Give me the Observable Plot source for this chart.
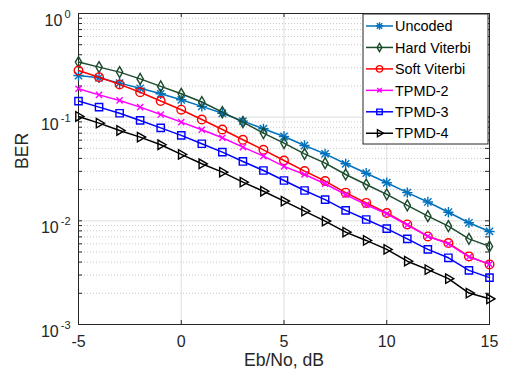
<!DOCTYPE html>
<html><head><meta charset="utf-8">
<script src="https://cdn.jsdelivr.net/npm/d3@7"></script>
<script src="https://cdn.jsdelivr.net/npm/@observablehq/plot@0.6"></script>
<style>
body{margin:0;background:#fff;}
#chart{width:505px;height:376px;}
</style></head><body><div id="chart"></div>
<script>
const ebno = [-5,-4,-3,-2,-1,0,1,2,3,4,5,6,7,8,9,10,11,12,13,14,15];
const uncoded = [0.252,0.240,0.213,0.190,0.168,0.147,0.127,0.109,0.0916,0.0773,0.0651,0.0533,0.0443,0.0355,0.0288,0.0233,0.0187,0.0152,0.0121,0.00958,0.0079];
const hardViterbi = [0.340,0.304,0.272,0.234,0.198,0.168,0.140,0.112,0.0895,0.0702,0.0562,0.0443,0.036,0.028,0.0224,0.018,0.0141,0.0111,0.0089,0.0067,0.00567];
const softViterbi = [0.282,0.243,0.207,0.174,0.143,0.118,0.095,0.076,0.0605,0.0484,0.0382,0.0302,0.0242,0.0187,0.0149,0.0119,0.00923,0.00707,0.0061,0.00454,0.0038];
const tpmd2 = [0.188,0.164,0.145,0.125,0.106,0.0895,0.0756,0.0633,0.0514,0.0421,0.0335,0.028,0.0228,0.0179,0.0143,0.0117,0.0091,0.0071,0.0060,0.00448,0.00382];
const tpmd3 = [0.143,0.125,0.109,0.093,0.0789,0.0667,0.0554,0.046,0.0374,0.0306,0.0245,0.0196,0.016,0.0126,0.0103,0.0084,0.0067,0.0053,0.0044,0.00333,0.00283];
const tpmd4 = [0.1016,0.0876,0.0744,0.0642,0.0542,0.0437,0.0355,0.0295,0.0236,0.0193,0.0155,0.0124,0.00994,0.00778,0.00647,0.0053,0.00408,0.00338,0.00277,0.00201,0.00177];

const seriesNames = ["Uncoded","Hard Viterbi","Soft Viterbi","TPMD-2","TPMD-3","TPMD-4"];
const seriesValues = [uncoded, hardViterbi, softViterbi, tpmd2, tpmd3, tpmd4];
const seriesColors = ["#0072bd","#1b4b2c","#ff0000","#ff00ff","#0000ff","#000000"];
const seriesSymbols = [["plus","times"],["diamond"],["circle"],["times"],["square"],["triangle"]];
const seriesRotate = [0,0,0,0,0,90];
const seriesR = [3.4,3.3,4.3,2.9,4.1,3.5];

const xTicks = [-5,0,5,10,15];
const yTicks = [1e-3,1e-2,1e-1,1];
const yMinor = [];
for (const dec of [1e-3,1e-2,1e-1]) for (let m = 2; m <= 9; m++) yMinor.push(m*dec);
const xLabel = "Eb/No, dB";
const yLabel = "BER";

const W = 505, H = 376, mL = 78, mR = 16, mT = 13, mB = 52;
const fw = W - mL - mR, fh = H - mT - mB;
const axisColor = "#262626";

const marks = [
  Plot.ruleY(yMinor, {y: d => d, stroke: "#c8c8c8", strokeDasharray: "1,2", strokeWidth: 1}),
  Plot.ruleY(yTicks, {y: d => d, stroke: "#dedede", strokeWidth: 1}),
  Plot.ruleX(xTicks, {x: d => d, stroke: "#dedede", strokeWidth: 1}),
  // inward ticks
  Plot.tickY(yTicks.concat(yMinor), {y: d => d, insetRight: fw - 4, stroke: axisColor}),
  Plot.tickY(yTicks.concat(yMinor), {y: d => d, insetLeft: fw - 4, stroke: axisColor}),
  Plot.tickX(xTicks, {x: d => d, insetTop: fh - 4, stroke: axisColor}),
  Plot.tickX(xTicks, {x: d => d, insetBottom: fh - 4, stroke: axisColor}),
  Plot.frame({stroke: axisColor, strokeWidth: 1}),
  Plot.axisX(xTicks, {tickSize: 0, tickPadding: 11, fontSize: 16, label: null, color: axisColor,
    tickFormat: d => String(d)}),
  Plot.axisY(yTicks, {tickSize: 0, tickPadding: 8, fontSize: 16, label: null, color: axisColor,
    tickFormat: d => `10^${Math.round(Math.log10(d))}`}),
  Plot.text([xLabel], {text: d => d, frameAnchor: "bottom", dy: 41, fontSize: 17.6, fill: axisColor}),
  Plot.text([yLabel], {text: d => d, frameAnchor: "left", dx: -56.5, rotate: -90, fontSize: 17.6, fill: axisColor})
];

seriesNames.forEach((name, i) => {
  const rows = ebno.map((x, j) => ({x, y: seriesValues[i][j]}));
  marks.push(Plot.line(rows, {x: "x", y: "y", stroke: seriesColors[i], strokeWidth: 1.5}));
  for (const sym of seriesSymbols[i]) {
    marks.push(Plot.dot(rows, {x: "x", y: "y", symbol: sym, r: seriesR[i], stroke: seriesColors[i],
      fill: "none", strokeWidth: 1.4, rotate: seriesRotate[i]}));
  }
});

const svg = Plot.plot({
  width: W, height: H,
  marginLeft: mL, marginRight: mR, marginTop: mT, marginBottom: mB,
  x: {domain: [-5, 15]},
  y: {type: "log", domain: [1e-3, 1]},
  style: {fontFamily: "'Liberation Sans', Arial, sans-serif", fontSize: "16px", background: "#fff", color: axisColor},
  marks
});

// superscript exponents on the log axis labels
svg.querySelectorAll('g[aria-label="y-axis tick label"] text').forEach(t => {
  const parts = t.textContent.split("^");
  if (parts.length !== 2) return;
  t.textContent = "";
  t.setAttribute("dy", "0.47em");
  const ns = "http://www.w3.org/2000/svg";
  const b = document.createElementNS(ns, "tspan");
  b.textContent = parts[0];
  const e = document.createElementNS(ns, "tspan");
  e.textContent = parts[1];
  e.setAttribute("font-size", "11");
  e.setAttribute("dx", "2");
  e.setAttribute("dy", "-8.2");
  t.appendChild(b); t.appendChild(e);
});

// legend inside the axes, top right
(function legend() {
  const ns = "http://www.w3.org/2000/svg";
  const g = document.createElementNS(ns, "g");
  const bx = 363, by = 14, bw = 125, bh = 130, rowH = 21.45, y0 = 26;
  const rect = document.createElementNS(ns, "rect");
  Object.entries({x: bx, y: by, width: bw, height: bh, fill: "#fff", stroke: axisColor, "stroke-width": 1})
    .forEach(([k, v]) => rect.setAttribute(k, v));
  g.appendChild(rect);
  const symMap = {plus: d3.symbolPlus, times: d3.symbolTimes, diamond: d3.symbolDiamond, circle: d3.symbolCircle,
    square: d3.symbolSquare, triangle: d3.symbolTriangle};
  seriesNames.forEach((name, i) => {
    const cy = y0 + i * rowH;
    const line = document.createElementNS(ns, "line");
    Object.entries({x1: 366, x2: 393, y1: cy, y2: cy, stroke: seriesColors[i], "stroke-width": 1.5})
      .forEach(([k, v]) => line.setAttribute(k, v));
    g.appendChild(line);
    for (const sym of seriesSymbols[i]) {
      const p = document.createElementNS(ns, "path");
      const r = seriesR[i] * 0.75;
      p.setAttribute("d", d3.symbol(symMap[sym], Math.PI * r * r)());
      p.setAttribute("transform", `translate(379.5,${cy}) rotate(${seriesRotate[i]})`);
      p.setAttribute("fill", "none");
      p.setAttribute("stroke", seriesColors[i]);
      p.setAttribute("stroke-width", 1.4);
      g.appendChild(p);
    }
    const t = document.createElementNS(ns, "text");
    t.setAttribute("x", 395);
    t.setAttribute("y", cy + 5.2);
    t.setAttribute("font-size", "14.4");
    t.setAttribute("text-anchor", "start");
    t.setAttribute("fill", "#000");
    t.textContent = name;
    g.appendChild(t);
  });
  svg.appendChild(g);
})();

document.getElementById("chart").appendChild(svg);
</script></body></html>
